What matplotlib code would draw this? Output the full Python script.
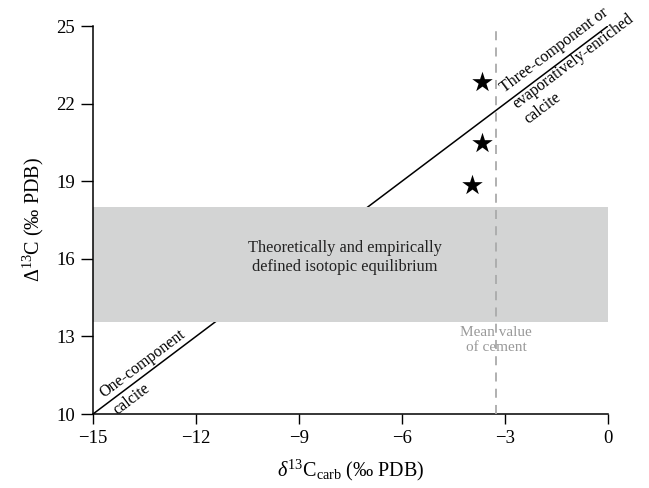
import numpy as np
import matplotlib
matplotlib.use("Agg")
import matplotlib.pyplot as plt

plt.rcParams['font.family'] = ['Liberation Serif', 'DejaVu Serif']
plt.rcParams['mathtext.fontset'] = 'custom'
plt.rcParams['mathtext.rm'] = 'Liberation Serif'
plt.rcParams['mathtext.it'] = 'Liberation Serif:italic'

# data
star_x = [-3.67, -3.67, -3.96]
star_y = [22.83, 20.48, 18.85]
band_lo, band_hi = 13.56, 18.0
cement_mean = -3.26
line_x = [-15, 0]
line_y = [10, 25]
xticks = [-15, -12, -9, -6, -3, 0]
yticks = [10, 13, 16, 19, 22, 25]

fig = plt.figure(figsize=(6.49, 4.88), dpi=100)
ax = fig.add_axes([0.1433, 0.1516, 0.7935, 0.7951])
ax.set_xlim(-15, 0)
ax.set_ylim(10, 25)

ax.plot(line_x, line_y, color='black', lw=1.1, zorder=1)
ax.axhspan(band_lo, band_hi, color='#d3d4d4', lw=0, zorder=2)
ax.axvline(cement_mean, color='#aaaaaa', ls=(0, (5, 4)), lw=1.3, zorder=3)
ax.scatter(star_x, star_y, marker='*', s=240, color='black', zorder=4, linewidths=0)

ax.text(-7.66, 16.05, "Theoretically and empirically\ndefined isotopic equilibrium",
        ha='center', va='center', fontsize=11.8, color='#222222', linespacing=1.3)
ax.text(cement_mean, 12.85, "Mean value\nof cement", ha='center', va='center',
        fontsize=11, color='#999999', linespacing=1.2)

# labels along the diagonal line (left aligned, offset perpendicular to it)
p0 = ax.transData.transform((line_x[0], line_y[0]))
p1 = ax.transData.transform((line_x[1], line_y[1]))
d = (p1 - p0) / np.hypot(*(p1 - p0))
ang = np.degrees(np.arctan2(d[1], d[0]))
perp = np.array([-d[1], d[0]])

def line_label(txt, along, off):
    x = line_x[0] + along * (line_x[1] - line_x[0])
    y = line_y[0] + along * (line_y[1] - line_y[0])
    ax.annotate(txt, xy=(x, y), xytext=tuple(perp * off), textcoords='offset pixels',
                rotation=ang, rotation_mode='anchor', ha='left', va='center',
                fontsize=11.5)

line_label("One-component", 0.029, 10)
line_label("calcite", 0.029, -11)
line_label("Three-component or", 0.81, 13)
line_label("evaporatively-enriched", 0.81, -7)
line_label("calcite", 0.81, -26)

ax.set_xticks(xticks)
ax.set_yticks(yticks)
ax.set_xticklabels([f"{t}".replace('-', '\u2212') for t in xticks])
ax.tick_params(direction='out', width=1, labelsize=13.5)
ax.tick_params(axis='y', length=9, pad=4)
ax.tick_params(axis='x', length=7.5, pad=4)
for s in ['top', 'right']:
    ax.spines[s].set_visible(False)
for s in ['left', 'bottom']:
    ax.spines[s].set_linewidth(1.1)

ax.set_xlabel(r"$\it{\delta}^{13}$C$_{\rm carb}$ (‰ PDB)", fontsize=14.5, labelpad=8)
ax.set_ylabel(r"$\Delta^{13}$C (‰ PDB)", fontsize=14.5, labelpad=7)

fig.savefig("out.png", dpi=100)
